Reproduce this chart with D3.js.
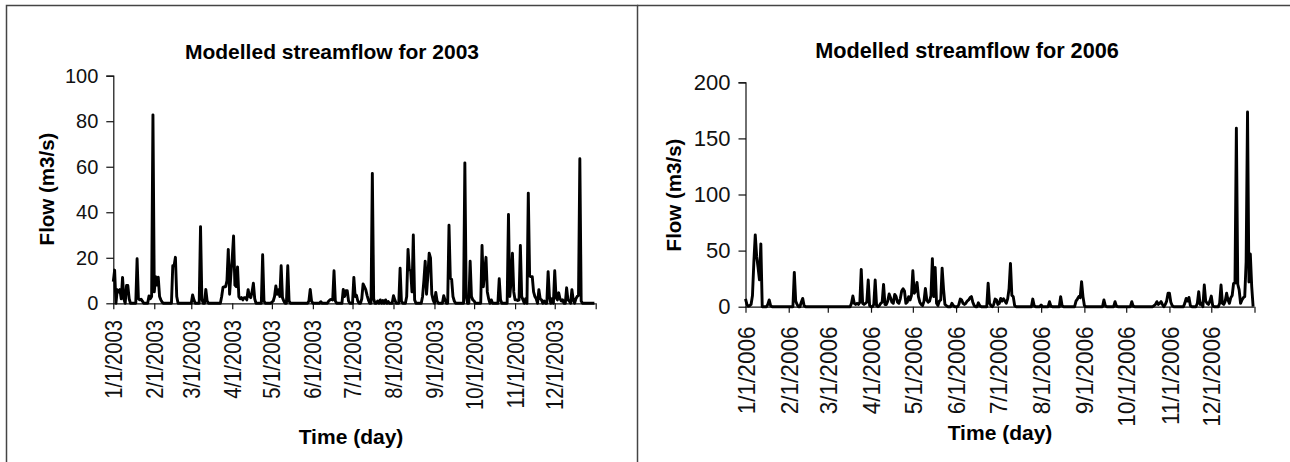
<!DOCTYPE html>
<html>
<head>
<meta charset="utf-8">
<script src="https://cdnjs.cloudflare.com/ajax/libs/d3/7.8.5/d3.min.js"></script>
<style>
  html, body { margin: 0; padding: 0; background: #fff; }
  svg { display: block; font-family: "Liberation Sans", Arial, sans-serif; }
</style>
</head>
<body>
<div id="chart"></div>
<script>
// daily modelled flow: day of year (0 = Jan 1) and flow in m3/s
// days not listed sit on the zero line
const days2003 = [0,1,3,4,5,6,7,8,10,11,12,18,19,20,21,22,27,28,29,30,31,32,33,34,35,36,37,
  45,46,47,48,60,61,66,67,70,71,82,83,84,85,86,87,88,89,90,91,92,93,94,95,96,97,98,99,100,101,102,103,104,105,106,107,
  113,114,120,121,122,123,124,125,126,127,128,129,132,133,148,149,150,157,163,164,165,166,167,168,
  174,175,176,177,178,182,183,184,185,188,189,190,191,192,193,196,197,200,202,204,206,208,
  212,213,217,218,222,223,224,225,226,227,228,234,235,236,237,238,239,240,241,242,244,245,250,251,
  254,255,256,257,258,266,267,270,271,272,273,279,280,281,282,283,284,286,292,293,
  299,300,301,302,303,304,305,306,307,308,309,310,312,314,315,316,317,318,319,320,322,323,324,326,
  329,330,332,334,335,336,337,338,339,340,343,344,345,347,348,350,351,352,353,354];
const flow2003 = [9.5,14.6,6,5,6,2,11.4,2,7.8,7.8,2,19.6,2,1.5,1.8,1,3.2,2,3,82.8,5,11.7,8,11.5,3,1.5,0.5,
  16.5,16.5,20.2,3,3.7,1.5,33.7,2,6.1,1,3,7,7.3,7.3,10,23.7,4,13,20,29.6,8,7.3,16,2.9,2,2.5,1.5,2.5,2.5,1.5,6,3,2.5,5,8.8,2,
  21.3,1,0.5,1,3,7.6,4,6,3,16.5,2.5,1,16.5,1,1,6.1,1,0.7,1,1.5,1.8,1.5,14.3,1,
  6.1,3,5.5,5.5,1,11.4,3,3.5,1,2,8.5,7.3,6,3.5,1.5,57.1,2,1,1.5,1.2,1.5,0.8,
  3.3,1.5,15.4,1,3,23.7,14.6,14.3,5,30,1.5,3,10,18.5,4,12,22,20,4,1.5,4.8,1,3.3,1.5,
  34.3,11,10.5,3,1,61.7,3,18.5,3,1.5,1,25.4,7.3,14,20.2,5,2,1.5,10.8,1.5,
  39,3,10,22,5,1.5,1.5,1.2,1.5,25.4,3,1.5,2,48.4,12,11.7,11.7,5,3,2,6,2,1.5,1,
  13.9,3,2,14.3,2.5,1.5,4.6,2,1,1.5,6.8,1.5,1,6,1.5,2,3,3.5,63.5,1];

const days2006 = [0,1,2,3,4,5,6,7,8,9,10,11,16,17,18,35,36,37,40,41,42,
  76,77,78,79,80,81,82,83,84,85,86,87,88,89,92,93,94,96,97,98,99,100,101,102,103,104,105,106,107,108,109,110,
  111,112,113,114,115,116,117,118,119,120,121,122,123,124,125,126,127,128,129,130,131,132,133,134,135,136,137,138,
  139,140,141,142,143,144,148,149,153,154,155,156,157,158,159,160,161,162,163,164,167,168,174,175,176,178,179,180,
  181,182,183,184,185,186,187,188,189,190,191,192,193,206,207,212,218,219,226,227,237,238,239,240,241,242,243,
  257,258,265,266,277,278,293,294,295,296,297,298,299,301,302,303,304,305,306,315,316,317,318,319,
  324,325,326,327,329,330,331,332,333,334,335,340,341,342,343,344,345,346,347,348,349,350,351,352,353,354,
  355,356,357,358,359,360,361,362,363];
const flow2006 = [7,2,0.5,1,2,10,40,64,45,35,24,56,2,6,1,30.6,5,2,4,7.4,1,
  3,9.5,3,2,3,2,4,33.3,3,2,3,4,23.8,1,2,23.8,1,1,3,4,19.9,2,2,5,11.3,8,4,3,11,9,4,3,
  7,14,16,14,3,4,9,6,10,32,12,14,21.7,9,4,2,1,5,16.3,6,4,5,10,42.8,9,35,3,1,
  5,6,34.4,16,2,1,3,1,2,6.8,6,3,2,3,5,6,8,9,4,1,3.5,1,21,3,1,2,6.8,6,
  2,3,7.4,5,7,5,3,7,16,38.6,10,9,1,6.8,1,1.5,4.5,0.5,9,1,5,6.8,9,8,22.3,9,1,
  6,1,4.5,0.5,4.5,0.5,1,2,4.5,2,3,4.5,2,2,5,12,12,4,1,3,7.4,5,8.3,1,
  3,13.4,2,3,19.3,5,3,2,5,9.5,1,3,19.3,3,2,5,12,6,3,8,10,20.8,21,159,20,15,
  3,6,8,9,40,173.5,22,47,18];

const ticks2003 = [0,20,40,60,80,100];
const ticks2006 = [0,50,100,150,200];
const dateLabels2003 = ['1/1/2003','2/1/2003','3/1/2003','4/1/2003','5/1/2003','6/1/2003',
  '7/1/2003','8/1/2003','9/1/2003','10/1/2003','11/1/2003','12/1/2003',''];
const dateLabels2006 = ['1/1/2006','2/1/2006','3/1/2006','4/1/2006','5/1/2006','6/1/2006',
  '7/1/2006','8/1/2006','9/1/2006','10/1/2006','11/1/2006','12/1/2006',''];

const W = 1290, H = 462;

const svg = d3.select('#chart').append('svg')
  .attr('width', W).attr('height', H);

// outer frame of the pasted charts
svg.append('rect')
  .attr('x', 6.5).attr('y', 5.5).attr('width', 631).attr('height', 470)
  .style('fill', 'none').style('stroke', '#444').style('stroke-width', 1.5);
svg.append('line')
  .attr('x1', 637).attr('x2', W).attr('y1', 5.5).attr('y2', 5.5)
  .style('stroke', '#444').style('stroke-width', 1.5);

//build the full daily series, zero where nothing was read
function buildSeries(year, days, flows){
  const start = new Date(year, 0, 1);
  const byDay = new Map(days.map(function(d, i){ return [d, flows[i]]; }));
  return d3.range(365).map(function(i){
    return { date: d3.timeDay.offset(start, i), value: byDay.has(i) ? byDay.get(i) : 0 };
  });
}

function drawPanel(opt){
  const data = buildSeries(opt.year, opt.days, opt.flows);
  const start = new Date(opt.year, 0, 1);
  const end = new Date(opt.year + 1, 0, 1);

  const scaleX = d3.scaleTime().domain([start, end]).range([opt.x0, opt.x1]);
  const scaleY = d3.scaleLinear().domain([0, opt.yMax]).range([opt.y0, opt.y1]);

  const g = svg.append('g');

  //title
  g.append('text')
    .attr('x', opt.titleX).attr('y', opt.titleY)
    .attr('text-anchor', 'middle')
    .style('font-weight', 'bold').style('font-size', opt.titleSize + 'px')
    .text(opt.title);

  //y axis
  const axisY = d3.axisLeft(scaleY)
    .tickValues(opt.yTicks)
    .tickSize(7).tickPadding(8)
    .tickFormat(d3.format('d'));
  const gy = g.append('g')
    .attr('transform', `translate(${opt.x0}, 0)`)
    .call(axisY);
  gy.select('.domain').attr('d', `M-7,${opt.y1 + 0.5}H0.5V${opt.y0 + 0.5}`);
  gy.selectAll('line').attr('x1', 0.5);
  gy.selectAll('path, line').style('stroke', '#111').style('stroke-width', 1.2);
  gy.selectAll('text')
    .style('font-size', opt.tickSize + 'px')
    .style('font-family', '"Liberation Sans", Arial, sans-serif')
    .style('fill', '#111');

  //x axis, a tick every month
  const months = d3.timeMonth.range(start, d3.timeDay.offset(end, 1));
  const axisX = d3.axisBottom(scaleX)
    .tickValues(months)
    .tickSize(6)
    .tickFormat(function(d, i){ return opt.dateLabels[i]; });
  const gx = g.append('g')
    .attr('transform', `translate(0, ${opt.y0})`)
    .call(axisX);
  gx.select('.domain').attr('d', `M${opt.x0},0.5H${opt.x1}`);
  gx.selectAll('path, line').style('stroke', '#111').style('stroke-width', 1.2);
  //labels read bottom to top, a little condensed like in the original
  gx.selectAll('text')
    .attr('y', 0).attr('dy', '0.35em')
    .attr('transform', `translate(0, ${opt.labelTop - opt.y0}) rotate(-90) scale(${opt.labelSqueeze}, 1)`)
    .attr('text-anchor', 'end')
    .style('font-size', opt.labelSize + 'px')
    .style('font-family', '"Liberation Sans", Arial, sans-serif')
    .style('fill', '#111');

  //axis titles
  g.append('text')
    .attr('x', opt.xTitleX).attr('y', opt.xTitleY)
    .attr('text-anchor', 'middle')
    .style('font-weight', 'bold').style('font-size', '21px')
    .text('Time (day)');

  g.append('text')
    .attr('transform', `translate(${opt.yTitleX}, ${opt.yTitleY}) rotate(-90)`)
    .attr('text-anchor', 'middle')
    .style('font-weight', 'bold').style('font-size', '20.5px')
    .text('Flow (m3/s)');

  //the flow line
  const line = d3.line()
    .x(function(d){ return scaleX(d.date); })
    .y(function(d){ return scaleY(d.value); });

  g.append('path')
    .datum(data)
    .attr('d', line)
    .style('fill', 'none')
    .style('stroke', '#000')
    .style('stroke-width', 2.9)
    .style('stroke-linejoin', 'round');
}

drawPanel({
  year: 2003, days: days2003, flows: flow2003, dateLabels: dateLabels2003,
  title: 'Modelled streamflow for 2003', titleX: 332, titleY: 59, titleSize: 21,
  x0: 113.3, x1: 595.7, y0: 303.3, y1: 75.7, yMax: 100, yTicks: ticks2003,
  tickSize: 20, labelSize: 23, labelSqueeze: 0.88, labelTop: 320,
  xTitleX: 351, xTitleY: 444, yTitleX: 54, yTitleY: 189
});

drawPanel({
  year: 2006, days: days2006, flows: flow2006, dateLabels: dateLabels2006,
  title: 'Modelled streamflow for 2006', titleX: 967, titleY: 58, titleSize: 21.7,
  x0: 745.5, x1: 1254.5, y0: 306.7, y1: 82.3, yMax: 200, yTicks: ticks2006,
  tickSize: 22, labelSize: 24.5, labelSqueeze: 0.92, labelTop: 326.5,
  xTitleX: 1000, xTitleY: 440, yTitleX: 681, yTitleY: 195
});
</script>
</body>
</html>
